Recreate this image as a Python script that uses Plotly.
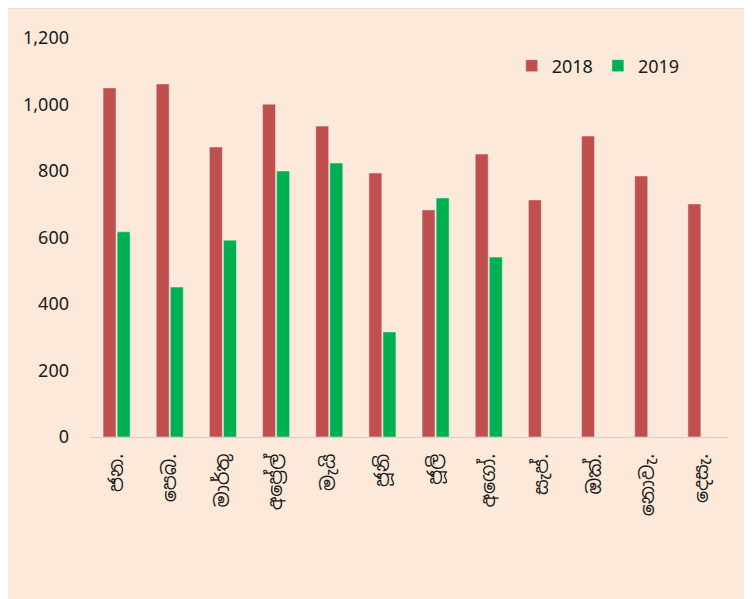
import plotly.graph_objects as go

months = ["ජන.", "පෙබ.", "මාර්තු", "අප්‍රේල්", "මැයි", "ජූනි", "ජූලි", "අගෝ.", "සැප්.", "ඔක්.", "නොවැ.", "දෙසැ."]
vals_2018 = [1050, 1062, 872, 1001, 935, 794, 683, 851, 713, 905, 785, 701]
vals_2019 = [617, 451, 592, 800, 824, 316, 719, 541, None, None, None, None]

W, H = 744, 591
L, T = 82, 30
pw, ph = 638, 399
R, B = W - L - pw, H - T - ph

fig = go.Figure()
fig.add_trace(go.Bar(name="2018", x=months, y=vals_2018, marker_color="#C0504D"))
fig.add_trace(go.Bar(name="2019", x=months, y=vals_2019, marker_color="#00B050"))

fig.update_layout(
    width=W, height=H,
    margin=dict(l=L, r=R, t=T, b=B, autoexpand=False),
    paper_bgcolor="white",
    plot_bgcolor="rgba(0,0,0,0)",
    barmode="group", bargap=0.47, bargroupgap=0.08,
    font=dict(family="Noto Sans, Noto Sans Sinhala, sans-serif", size=15, color="#1a1a1a"),
    legend=dict(orientation="h", x=0.661, y=0.93, xanchor="left", yanchor="middle",
                bgcolor="rgba(0,0,0,0)", font=dict(size=18), itemwidth=30, traceorder="normal"),
    showlegend=True,
    shapes=[dict(type="rect", xref="paper", yref="paper", layer="below",
                 x0=(-2 - L) / pw, x1=(W + 4 - L) / pw,
                 y0=(T + ph - (H + 4)) / ph, y1=(T + ph - 0) / ph,
                 fillcolor="#FDE9D9", line=dict(color="#D9D9D9", width=1))],
)
fig.update_xaxes(showline=True, linecolor="#D0D0D0", linewidth=1, tickangle=-90,
                 ticks="", showgrid=False, tickfont=dict(size=19, color="#1a1a1a"),
                 ticklabelstandoff=8)
fig.update_yaxes(range=[0, 1200], dtick=200, tickformat=",", showgrid=False,
                 zeroline=False, showline=False, ticks="", tickfont=dict(size=18, color="#1a1a1a"),
                 ticklabelstandoff=20)

fig.write_html("out.html")
